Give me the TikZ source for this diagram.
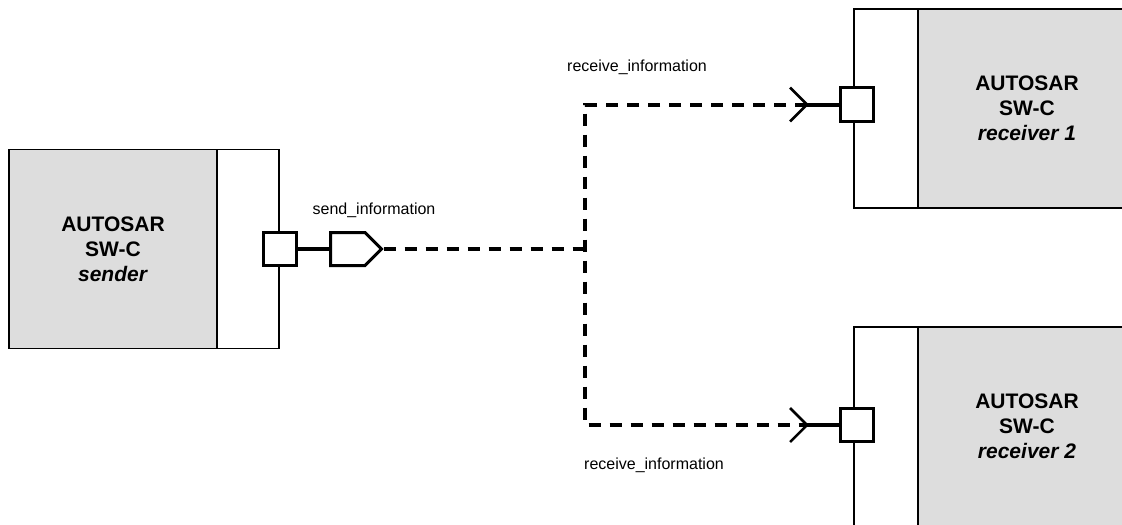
\documentclass[tikz,border=0pt]{standalone}
\usepackage{fontspec}
\setmainfont{Liberation Sans}
\usetikzlibrary{shapes.symbols}
\definecolor{swcgray}{RGB}{221,221,221}

\begin{document}
\begin{tikzpicture}[x=0.5pt,y=-0.5pt,
  swc/.style={draw,line width=0.75pt,fill=swcgray,minimum width=#1,minimum height=99.5pt,align=center,font=\fontsize{10.5}{12.5}\selectfont\bfseries},
  strip/.style={draw,line width=0.75pt,fill=white,minimum width=#1,minimum height=99.5pt},
  port/.style={draw,line width=1.5pt,fill=white,minimum size=16.5pt,inner sep=0pt},
  pport/.style={signal,signal to=east,draw,line width=1.5pt,fill=white,minimum width=25.5pt,minimum height=16.5pt,inner sep=0pt},
  conn/.style={line width=2pt,dash pattern=on 6pt off 4.5pt},
  stub/.style={line width=2pt},
  chevron/.style={line width=1.25pt},
  lbl/.style={font=\fontsize{8}{9.6}\selectfont}]
  \useasboundingbox (0,0) rectangle (1122,524);
  \clip (0,0) rectangle (1122,524);

  \node[swc=104pt] (sender) at (113,249) {AUTOSAR\\SW-C\\\textit{sender}};
  \node[strip=31pt] (sstrip) at (248,249) {};
  \node[port] (sport) at (280,249) {};
  \node[pport,anchor=west] (send) at (329,249) {};
  \draw[stub] (sport) -- (send);
  \node[lbl] (sendlbl) at (374,210) {send\_information};

  \node[swc=109pt] (recv1) at (1027,108.5) {AUTOSAR\\SW-C\\\textit{receiver 1}};
  \node[strip=32pt] (rstrip1) at (886,108.5) {};
  \node[port] (rport1) at (857,104.5) {};
  \coordinate (rtip1) at (807,104.5);
  \draw[stub] (rport1) -- (rtip1);
  \draw[chevron] (rtip1) ++(-17,-17) -- (rtip1) -- ++(-17,17);
  \node[lbl] (recvlbl1) at (637,67) {receive\_information};

  \node[swc=109pt] (recv2) at (1027,426.5) {AUTOSAR\\SW-C\\\textit{receiver 2}};
  \node[strip=32pt] (rstrip2) at (886,426.5) {};
  \node[port] (rport2) at (857,425) {};
  \coordinate (rtip2) at (807,425);
  \draw[stub] (rport2) -- (rtip2);
  \draw[chevron] (rtip2) ++(-17,-17) -- (rtip2) -- ++(-17,17);
  \node[lbl] (recvlbl2) at (654,465) {receive\_information};

  \coordinate (junc) at (585,249);
  \draw[conn] (send.east) -- (junc);
  \draw[conn] (rtip1) -| (junc) |- (rtip2);
\end{tikzpicture}
\end{document}
